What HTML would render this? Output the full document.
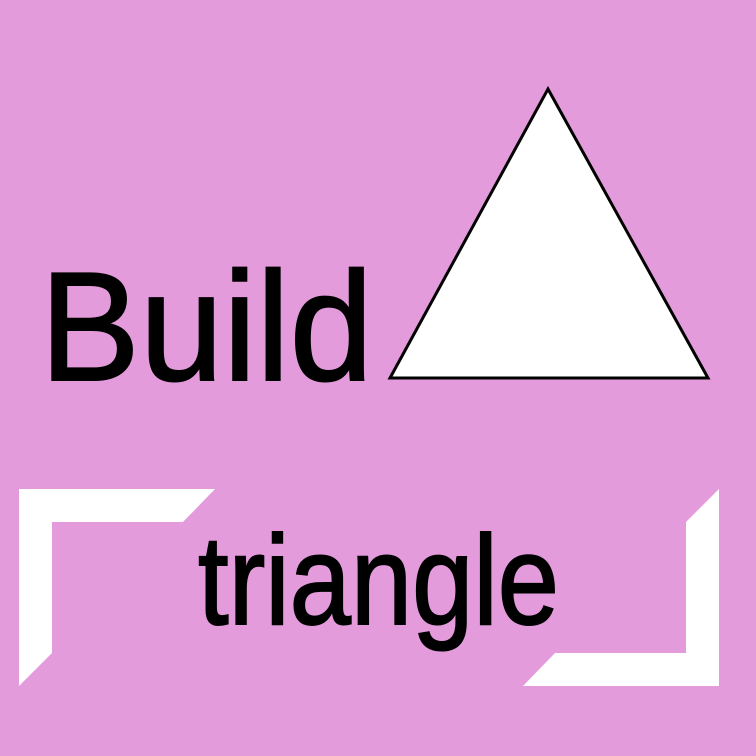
<!DOCTYPE html>
<html><head><meta charset="utf-8"><style>
html,body{margin:0;padding:0;background:#e39bdc;}
svg{display:block}
</style></head><body>
<svg width="756" height="756" viewBox="0 0 756 756">
<rect x="0" y="0" width="756" height="756" fill="#e39bdc"/>
<text x="40" y="380" font-family="Liberation Sans, sans-serif" font-size="155" fill="#000" stroke="#000" stroke-width="2" textLength="333" lengthAdjust="spacingAndGlyphs">Build</text>
<polygon points="548,89 390,378 708,378" fill="#fff" stroke="#000" stroke-width="3" stroke-linejoin="miter"/>
<polygon points="19,489 215,489 183,522 52,522 52,653 19,686" fill="#fff"/>
<polygon points="719,489 719,686 523,686 555,653 686,653 686,522" fill="#fff"/>
<text x="198" y="624" font-family="Liberation Sans, sans-serif" font-size="127" fill="#000" stroke="#000" stroke-width="2" textLength="361" lengthAdjust="spacingAndGlyphs">triangle</text>
</svg>
</body></html>
